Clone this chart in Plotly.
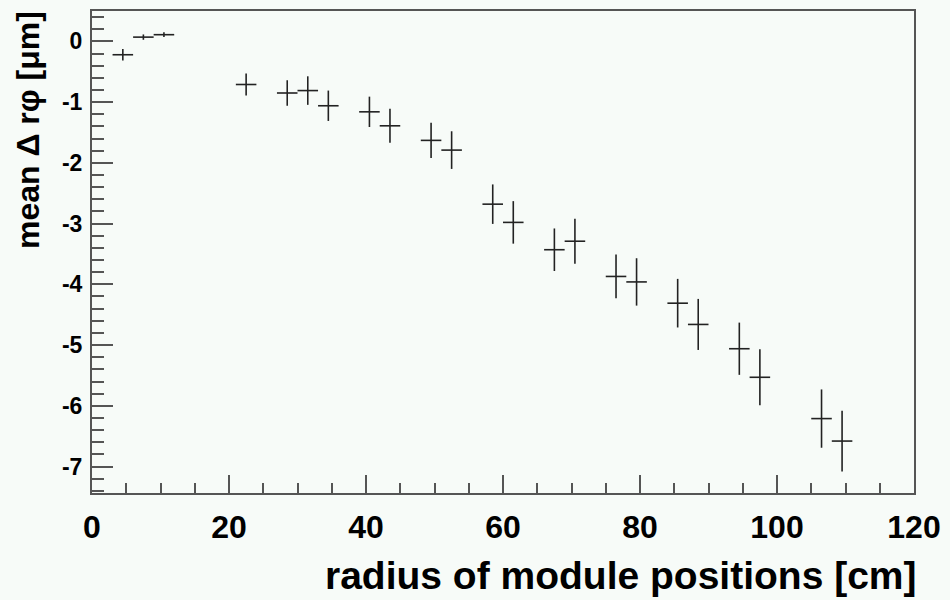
import plotly.graph_objects as go

# data
radius = [4.5, 7.5, 10.5, 22.5, 28.5, 31.5, 34.5, 40.5, 43.5, 49.5, 52.5,
          58.5, 61.5, 67.5, 70.5, 76.5, 79.5, 85.5, 88.5, 94.5, 97.5, 106.5, 109.5]
mean_drphi = [-0.22, 0.07, 0.11, -0.71, -0.85, -0.81, -1.06, -1.16, -1.39, -1.63, -1.79,
              -2.68, -2.98, -3.43, -3.29, -3.87, -3.96, -4.31, -4.66, -5.06, -5.53, -6.21, -6.58]
err_y = [0.093, 0.044, 0.04, 0.18, 0.21, 0.235, 0.25, 0.25, 0.28, 0.29, 0.31,
         0.325, 0.35, 0.35, 0.37, 0.36, 0.39, 0.40, 0.42, 0.43, 0.46, 0.48, 0.50]
err_x = [1.5] * len(radius)

x_ticks = [0, 20, 40, 60, 80, 100, 120]
x_ticktext = ["0", "20", "40", "60", "80", "100", "120"]
y_ticks = [0, -1, -2, -3, -4, -5, -6, -7]
y_ticktext = ["0", "-1", "-2", "-3", "-4", "-5", "-6", "-7"]

x_title = "radius of module positions [cm]"
y_title = "mean \u0394 r\u03c6 [\u03bcm]"

BG = "#f7fbf8"
INK = "#222222"
FRAME = "#555555"
FONT = "Liberation Sans, Arial, sans-serif"

fig = go.Figure()
fig.add_trace(go.Scatter(
    x=radius, y=mean_drphi, mode="markers",
    marker=dict(size=0.1, color=INK, opacity=0),
    error_x=dict(type="data", array=err_x, visible=True, width=0, thickness=1.6, color=INK),
    error_y=dict(type="data", array=err_y, visible=True, width=0, thickness=1.6, color=INK),
    showlegend=False, hoverinfo="x+y",
))

fig.update_layout(
    width=950, height=600,
    margin=dict(l=92, r=30, t=9, b=107),
    paper_bgcolor=BG, plot_bgcolor=BG,
    font=dict(family=FONT, color="#000000"),
    xaxis=dict(
        range=[0, 120], showgrid=False, zeroline=False,
        showline=True, linecolor=FRAME, linewidth=2, mirror=True,
        ticks="inside", ticklen=18, tickwidth=1.5, tickcolor=FRAME,
        tickvals=x_ticks, ticktext=x_ticktext,
        tickfont=dict(size=32, family=FONT, weight="bold"),
        ticklabelstandoff=5,
        minor=dict(dtick=5, ticks="inside", ticklen=10, tickwidth=1.5, tickcolor=FRAME, showgrid=False),
    ),
    yaxis=dict(
        range=[-7.435, 0.5], showgrid=False, zeroline=False,
        showline=True, linecolor=FRAME, linewidth=2, mirror=True,
        ticks="inside", ticklen=21, tickwidth=1.5, tickcolor=FRAME,
        tickvals=y_ticks, ticktext=y_ticktext,
        tickfont=dict(size=23, family=FONT, weight="bold"),
        ticklabelstandoff=3,
        minor=dict(dtick=0.2, tick0=0, ticks="inside", ticklen=12, tickwidth=1.5, tickcolor=FRAME, showgrid=False),
    ),
    annotations=[
        dict(text=x_title, xref="paper", yref="paper", x=1.0, y=0, xanchor="right", yanchor="middle",
             xshift=5, yshift=-82, showarrow=False,
             font=dict(size=39, family=FONT, weight="bold", color="#000000")),
        dict(text=y_title, xref="paper", yref="paper", x=0, y=1, xanchor="center", yanchor="top",
             xshift=-64, yshift=2, textangle=-90, showarrow=False,
             font=dict(size=32, family=FONT, weight="bold", color="#000000")),
    ],
)

fig.write_html("out.html")
